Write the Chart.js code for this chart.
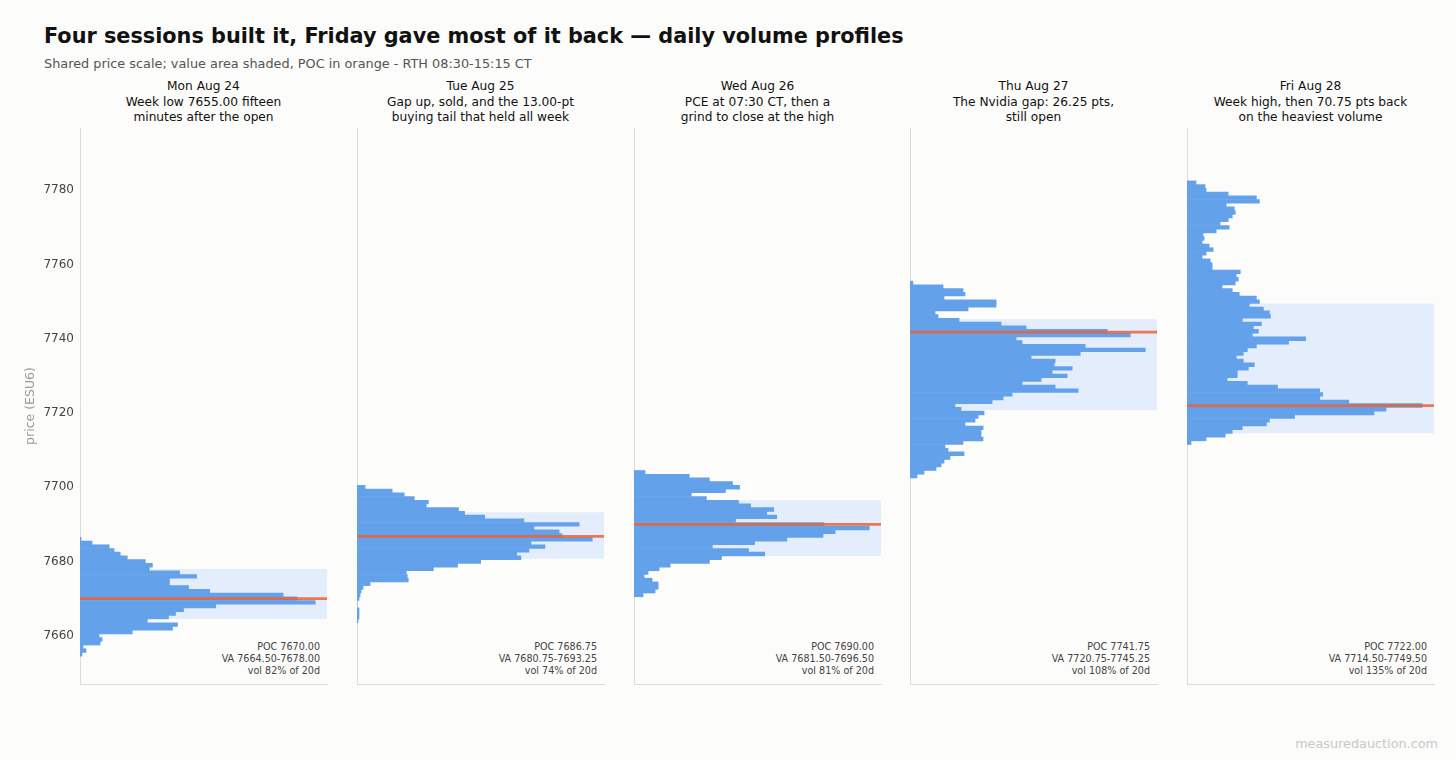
<!DOCTYPE html>
<html>
<head>
<meta charset="utf-8">
<title>Daily volume profiles</title>
<script src="https://cdn.jsdelivr.net/npm/chart.js@4.4.1/dist/chart.umd.min.js"></script>
<style>
  body { margin: 0; background: #fcfcfa; font-family: "DejaVu Sans", sans-serif; }
  #wrap { position: relative; width: 1456px; height: 760px; overflow: hidden; }
  .t { position: absolute; white-space: nowrap; }
  #title { left: 44px; top: 23px; font-size: 20.8px; font-weight: bold; color: #111; line-height: 26px; }
  #sub { left: 44px; top: 56px; font-size: 12.85px; color: #555; line-height: 16px; }
  .head { width: 276px; text-align: center; font-size: 12.2px; line-height: 15.7px; color: #111; top: 79px; }
  .stats { text-align: right; font-size: 9.6px; line-height: 12px; color: #444; top: 641px; }
  #mark { right: 18px; top: 736px; font-size: 12.8px; color: #c9c9c9; }
  canvas { position: absolute; }
</style>
</head>
<body>
<div id="wrap">
  <div class="t" id="title">Four sessions built it, Friday gave most of it back — daily volume profiles</div>
  <div class="t" id="sub">Shared price scale; value area shaded, POC in orange - RTH 08:30-15:15 CT</div>
  <div class="t" id="mark">measuredauction.com</div>
</div>
<script>
// sessions
const dayNames = ['Mon Aug 24', 'Tue Aug 25', 'Wed Aug 26', 'Thu Aug 27', 'Fri Aug 28'];
const dayNotes = [
  ['Week low 7655.00 fifteen', 'minutes after the open'],
  ['Gap up, sold, and the 13.00-pt', 'buying tail that held all week'],
  ['PCE at 07:30 CT, then a', 'grind to close at the high'],
  ['The Nvidia gap: 26.25 pts,', 'still open'],
  ['Week high, then 70.75 pts back', 'on the heaviest volume']
];
const pocs = [7670.00, 7686.75, 7690.00, 7741.75, 7722.00];
const vaLows = [7664.50, 7680.75, 7681.50, 7720.75, 7714.50];
const vaHighs = [7678.00, 7693.25, 7696.50, 7745.25, 7749.50];
const volPcts = [82, 74, 81, 108, 135];
const priceTicks = [7660, 7680, 7700, 7720, 7740, 7760, 7780];

// relative volume per 1-pt price row, from the session low upward
const lows = [7655, 7664, 7671, 7703, 7712];
const monVol = [2, 6, 3, 20, 22, 19, 52, 92, 97, 67, 88, 95, 103, 135, 234, 216,
  202, 129, 108, 89, 89, 116, 99, 69, 72, 65, 47, 40, 34, 29, 12, 1];
const tueVol = [1, 2, 2, 2, 0, 0, 2, 3, 4, 6, 13, 51, 50, 49, 76, 100, 123, 163,
  159, 171, 187, 173, 234, 204, 201, 176, 221, 166, 127, 107, 101, 69, 71, 57, 47, 35, 8];
const wedVol = [9, 21, 24, 24, 18, 10, 14, 25, 36, 75, 87, 130, 114, 78, 120, 152,
  188, 200, 234, 189, 101, 142, 132, 139, 116, 104, 72, 57, 91, 105, 98, 75, 55, 11];
const thuVol = [7, 14, 26, 31, 34, 40, 54, 38, 35, 53, 73, 71, 71, 73, 55, 65, 68,
  74, 51, 45, 82, 93, 102, 168, 145, 112, 131, 157, 142, 162, 144, 145, 121, 170,
  235, 175, 112, 106, 220, 197, 116, 91, 49, 28, 25, 58, 86, 86, 34, 55, 53, 33, 3];
const friVol = [4, 19, 38, 45, 55, 79, 82, 107, 186, 198, 234, 161, 132, 135, 132,
  90, 60, 40, 50, 50, 61, 67, 56, 49, 56, 60, 69, 101, 118, 65, 71, 66, 74, 55, 83,
  82, 76, 62, 72, 69, 52, 45, 35, 48, 51, 49, 53, 25, 25, 23, 15, 19, 26, 22, 15,
  17, 16, 29, 42, 33, 41, 45, 48, 47, 39, 72, 69, 41, 19, 18, 9];
const allVols = [monVol, tueVol, wedVol, thuVol, friVol];

const priceMin = 7647;
const priceMax = 7796.75;
const panelLefts = [80, 357, 634, 910, 1187];
const panelWidth = 247;
const plotTop = 128;
const plotBottom = 684;

const wrap = document.getElementById('wrap');

function profilePlugin(i) {
  return {
    id: 'profile' + i,
    beforeDatasetsDraw(chart) {
      const { ctx, chartArea } = chart;
      const y = chart.scales.y;
      const top = y.getPixelForValue(vaHighs[i]);
      const bottom = y.getPixelForValue(vaLows[i]);
      ctx.save();
      ctx.fillStyle = '#e3edfb';
      ctx.fillRect(chartArea.left, top, chartArea.right - chartArea.left, bottom - top);
      ctx.restore();
    },
    afterDatasetsDraw(chart) {
      const { ctx, chartArea } = chart;
      const py = chart.scales.y.getPixelForValue(pocs[i]);
      ctx.save();
      ctx.strokeStyle = 'rgba(235, 98, 52, 0.85)';
      ctx.lineWidth = 2.8;
      ctx.beginPath();
      ctx.moveTo(chartArea.left, py);
      ctx.lineTo(chartArea.right, py);
      ctx.stroke();
      ctx.restore();
    }
  };
}

allVols.forEach(function(vols, i) {
  const first = i === 0;
  const padLeft = first ? 0 : 4;
  const canvasLeft = first ? 0 : panelLefts[i] - 4;
  const canvasWidth = panelLefts[i] + panelWidth + 4 - canvasLeft;
  const canvasHeight = plotBottom - plotTop + 20;

  // heading and stats as page text
  const head = document.createElement('div');
  head.className = 't head';
  head.style.left = (panelLefts[i] + panelWidth / 2 - 138) + 'px';
  head.innerHTML = dayNames[i] + '<br>' + dayNotes[i][0] + '<br>' + dayNotes[i][1];
  wrap.appendChild(head);

  const stats = document.createElement('div');
  stats.className = 't stats';
  stats.style.right = (1456 - (panelLefts[i] + panelWidth - 7)) + 'px';
  stats.innerHTML = 'POC ' + pocs[i].toFixed(2) + '<br>VA ' + vaLows[i].toFixed(2) + '-' +
    vaHighs[i].toFixed(2) + '<br>vol ' + volPcts[i] + '% of 20d';
  wrap.appendChild(stats);

  const canvas = document.createElement('canvas');
  canvas.width = canvasWidth;
  canvas.height = canvasHeight;
  canvas.style.left = canvasLeft + 'px';
  canvas.style.top = (plotTop - 10) + 'px';
  canvas.style.width = canvasWidth + 'px';
  canvas.style.height = canvasHeight + 'px';
  wrap.appendChild(canvas);

  new Chart(canvas, {
    type: 'bar',
    data: {
      datasets: [{
        data: vols.map((v, k) => ({ x: v, y: lows[i] + k })),
        backgroundColor: '#63a1ea',
        borderWidth: 0,
        barPercentage: 1,
        categoryPercentage: 1
      }]
    },
    options: {
      indexAxis: 'y',
      responsive: false,
      animation: false,
      devicePixelRatio: 1,
      layout: { padding: { top: 10, bottom: 10, left: padLeft, right: 4 } },
      plugins: { legend: { display: false }, tooltip: { enabled: false } },
      scales: {
        x: {
          type: 'linear',
          min: 0,
          max: Math.max(...vols) * 1.05,
          z: 1,
          ticks: { display: false },
          grid: { display: false, drawTicks: false },
          border: { display: true, color: '#dddcd6' },
          afterFit(s) { s.height = 0; s.paddingLeft = 0; s.paddingRight = 0; }
        },
        y: {
          type: 'linear',
          min: priceMin,
          max: priceMax,
          offset: false,
          z: 1,
          afterBuildTicks(s) { s.ticks = priceTicks.map(v => ({ value: v })); },
          ticks: {
            display: first,
            padding: 6,
            color: '#444',
            font: { family: 'DejaVu Sans', size: 12 },
            callback: v => String(v)
          },
          grid: { display: false, drawTicks: false, offset: false },
          border: { display: true, color: '#dddcd6' },
          title: {
            display: first,
            text: 'price (ESU6)',
            color: '#999',
            font: { family: 'DejaVu Sans', size: 12.5 },
            padding: { top: 23.5, bottom: 0 }
          },
          afterFit(s) {
            s.width = first ? 80 : 0;
            s.paddingTop = 0;
            s.paddingBottom = 0;
          }
        }
      }
    },
    plugins: [profilePlugin(i)]
  });
});
</script>
</body>
</html>
